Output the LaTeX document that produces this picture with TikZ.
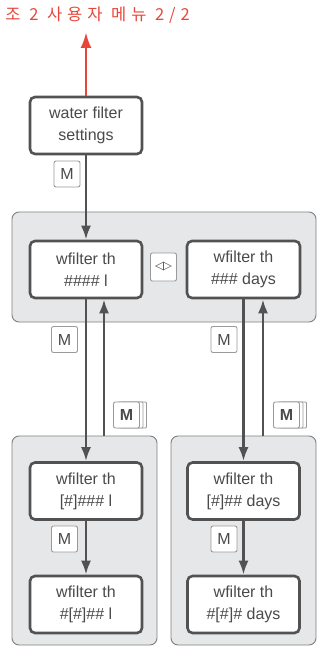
\documentclass[tikz,border=0pt]{standalone}
\usepackage{fontspec}
\setmainfont{Liberation Sans}
\newfontfamily\krfont[LetterSpace=30]{Noto Sans CJK KR}
\newfontfamily\symfont{DejaVu Sans}
\usetikzlibrary{arrows.meta,calc}
\definecolor{dk}{HTML}{525252}
\definecolor{tx}{HTML}{4A4A4A}
\definecolor{pf}{HTML}{E6E7E8}
\definecolor{pb}{HTML}{7F7F7F}
\definecolor{mb}{HTML}{9A9A9A}
\definecolor{rd}{HTML}{E8463A}
\tikzset{
  stepnode/.style={draw=dk,line width=2.6pt,fill=white,rounded corners=5pt,
    minimum width=112pt,minimum height=57pt,inner sep=0pt,align=center,
    text=tx,font=\fontsize{16}{22}\selectfont},
  panel/.style={draw=pb,line width=0.9pt,fill=pf,rounded corners=7pt},
  mbox/.style={draw=mb,line width=0.9pt,fill=white,rounded corners=2pt,
    minimum width=26pt,minimum height=26pt,inner sep=0pt,text=tx,
    font=\fontsize{16}{16}\selectfont},
  conn/.style={draw=dk,line width=2.6pt,-{Latex[length=14pt,width=10pt]}},
  redconn/.style={draw=rd,line width=2.8pt,-{Latex[length=16pt,width=11pt]}}
}
\begin{document}
\begin{tikzpicture}[x=1pt,y=-1pt]
\useasboundingbox (0,0) rectangle (320,647);
% title
\node[anchor=east,text=rd,inner sep=0pt,font=\krfont\fontsize{16.5}{16.5}\selectfont] (title) at (190,15) {조 2 사용자 메뉴 2/2};
% panels
\node[panel,minimum width=304pt,minimum height=110pt] (p1) at (164,267) {};
\node[panel,minimum width=145pt,minimum height=209pt] (p2) at (84.5,540.5) {};
\node[panel,minimum width=145pt,minimum height=209pt] (p3) at (243.5,540.5) {};
% nodes
\node[stepnode] (wfs) at (86,125.5) {water filter\\settings};
\node[stepnode] (n1) at (86,269.5) {wfilter th\\\#\#\#\# l};
\node[stepnode,minimum width=113pt] (n2) at (243.5,269.5) {wfilter th\\\#\#\# days};
\node[stepnode] (n3) at (86,491) {wfilter th\\{[}\#{]}\#\#\# l};
\node[stepnode] (n4) at (243.5,491) {wfilter th\\{[}\#{]}\#\# days};
\node[stepnode] (n5) at (86,604.5) {wfilter th\\\#{[}\#{]}\#\# l};
\node[stepnode] (n6) at (243.5,604.5) {wfilter th\\\#{[}\#{]}\# days};
% M boxes
\node[mbox] (m0) at (67,174) {M};
\node[mbox] (m1) at (64.5,339.5) {M};
\node[mbox] (m2) at (224,339.5) {M};
\node[mbox] (m3) at (64.5,539) {M};
\node[mbox] (m4) at (224,539) {M};
\node[mbox,minimum height=28pt,font=\symfont\fontsize{11.5}{11.5}\selectfont] (lr) at (163.5,267) {◁\kern-1pt▷};
% stacked M boxes
\foreach \cx/\nm in {126.5/s1,286.5/s2}{
  \node[mbox,rounded corners=1pt] at (\cx+7,415) {};
  \node[mbox,rounded corners=1pt] at (\cx+3.5,415) {};
  \node[mbox,font=\bfseries\fontsize{16}{16}\selectfont] (\nm) at (\cx,415) {M};
}
% connectors
\coordinate (top) at (86,32);
\draw[redconn] (wfs.north) -- (top);
\draw[conn] (wfs.south) -- (n1.north);
\draw[conn] (n1.south) -- (n3.north);
\draw[conn] (n2.south) -- (n4.north);
\coordinate (uL) at (104,436);
\coordinate (uR) at (263,436);
\draw[conn] (uL) -- (uL |- n1.south);
\draw[conn] (uR) -- (uR |- n2.south);
\draw[conn] (n3.south) -- (n5.north);
\draw[conn] (n4.south) -- (n6.north);
\end{tikzpicture}
\end{document}
